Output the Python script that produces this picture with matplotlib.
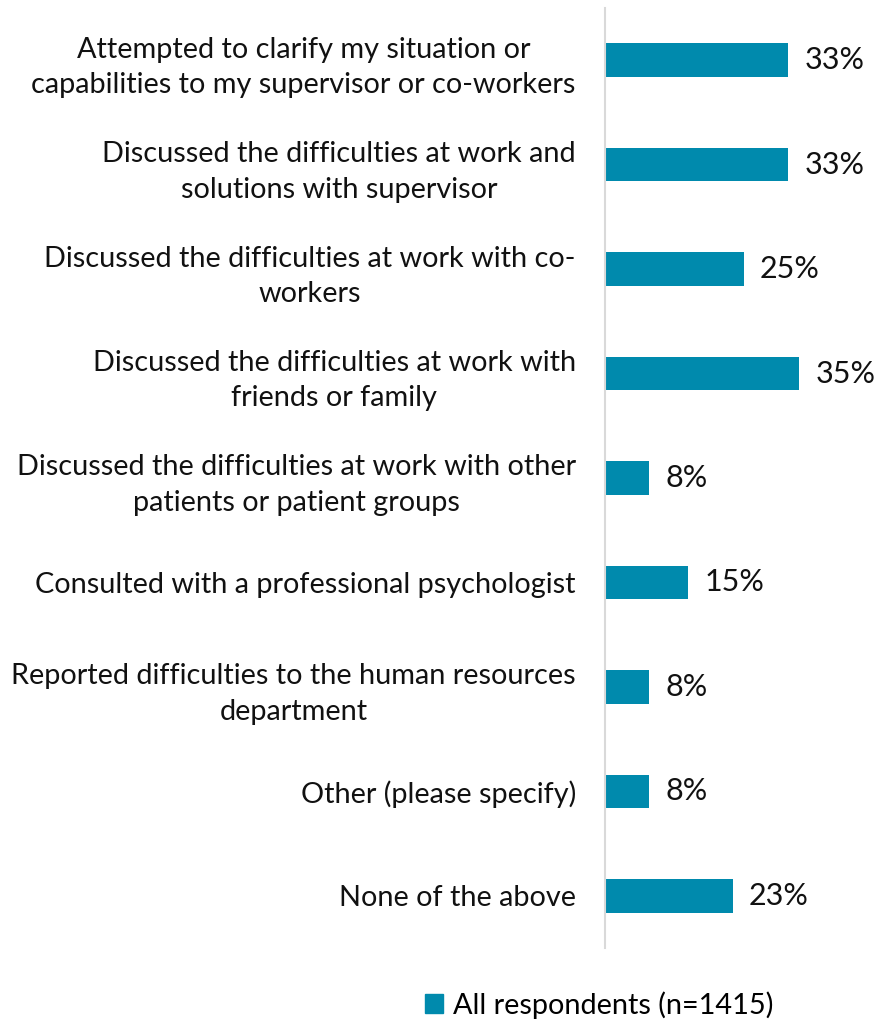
import matplotlib.pyplot as plt
from matplotlib.patches import Patch

plt.rcParams['font.family'] = ['Lato', 'DejaVu Sans']

categories = [
    "Attempted to clarify my situation or\ncapabilities to my supervisor or co-workers",
    "Discussed the difficulties at work and\nsolutions with supervisor",
    "Discussed the difficulties at work with co-\nworkers",
    "Discussed the difficulties at work with\nfriends or family",
    "Discussed the difficulties at work with other\npatients or patient groups",
    "Consulted with a professional psychologist",
    "Reported difficulties to the human resources\ndepartment",
    "Other (please specify)",
    "None of the above",
]
values = [33, 33, 25, 35, 8, 15, 8, 8, 23]
series_name = "All respondents (n=1415)"

bar_color = "#008aad"

fig = plt.figure(figsize=(8.76, 10.23), dpi=100)
ax = fig.add_axes([0.6906, 0.0733, 0.3094, 0.9189])

y = list(range(len(categories)))
ax.barh(y, values, height=0.32, color=bar_color)
ax.set_ylim(len(categories) - 0.5, -0.5)
ax.set_xlim(0, 48.8)

for yi, v in zip(y, values):
    ax.text(v + 2.9, yi, f"{v}%", va="center", ha="left", fontsize=22, color="#111111")

ax.set_yticks(y)
ax.set_yticklabels(categories, fontsize=20.8, color="#111111",
                   linespacing=1.45, multialignment="center")
ax.tick_params(axis="y", length=0, pad=21)
ax.set_xticks([])

for side in ["top", "right", "bottom"]:
    ax.spines[side].set_visible(False)
ax.spines["left"].set_color("#d9d9d9")
ax.spines["left"].set_linewidth(1.5)

fig.legend(handles=[Patch(color=bar_color, label=series_name)],
           loc="center", bbox_to_anchor=(0.684, 0.0176), frameon=False,
           fontsize=20.8, handlelength=0.65, handleheight=0.65, handletextpad=0.35)

fig.savefig("out.png", dpi=100)
